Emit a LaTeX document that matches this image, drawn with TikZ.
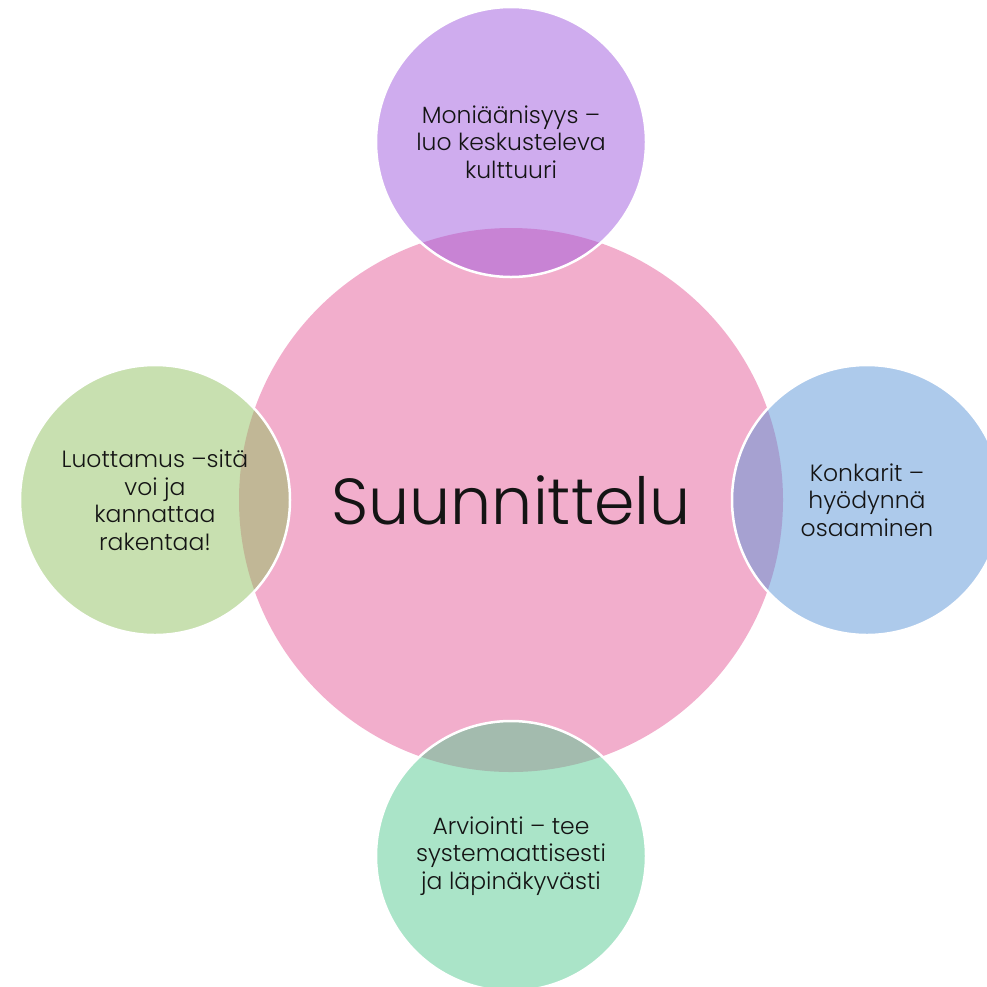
\documentclass[tikz,border=0pt]{standalone}
\usepackage{fontspec}
\setmainfont{Poppins}[UprightFont=* Light]
\definecolor{pinkc}{RGB}{242,174,204}
\definecolor{purplec}{RGB}{159,89,221}
\definecolor{bluec}{RGB}{91,149,215}
\definecolor{greenc}{RGB}{145,193,97}
\definecolor{mintc}{RGB}{85,201,145}
\definecolor{txt}{RGB}{20,20,20}
\tikzset{
  x=1pt, y=-1pt,
  hub/.style={circle, fill=pinkc, minimum size=544pt, inner sep=0pt, text=txt,
    font=\fontsize{65}{75}\selectfont},
  sat/.style={circle, minimum size=270pt, inner sep=0pt, draw=white, line width=2.5pt,
    fill opacity=0.5, text opacity=1, text=txt, align=center,
    font=\fontsize{23.5}{27.5}\selectfont}
}
\begin{document}
\begin{tikzpicture}
\useasboundingbox (0,0) rectangle (987,986);
\clip (0,0) rectangle (987,986);
\node[hub] (hub) at (511,500) {Suunnittelu};
\node[sat, fill=purplec] (top) at (511,142) {Moniäänisyys –\\luo keskusteleva\\kulttuuri};
\node[sat, fill=bluec] (right) at (867,500) {Konkarit –\\hyödynnä\\osaaminen};
\node[sat, fill=mintc] (bottom) at (511,856) {Arviointi – tee\\systemaattisesti\\ja läpinäkyvästi};
\node[sat, fill=greenc] (left) at (155,500) {Luottamus –sitä\\voi ja\\kannattaa\\rakentaa!};
\end{tikzpicture}
\end{document}
